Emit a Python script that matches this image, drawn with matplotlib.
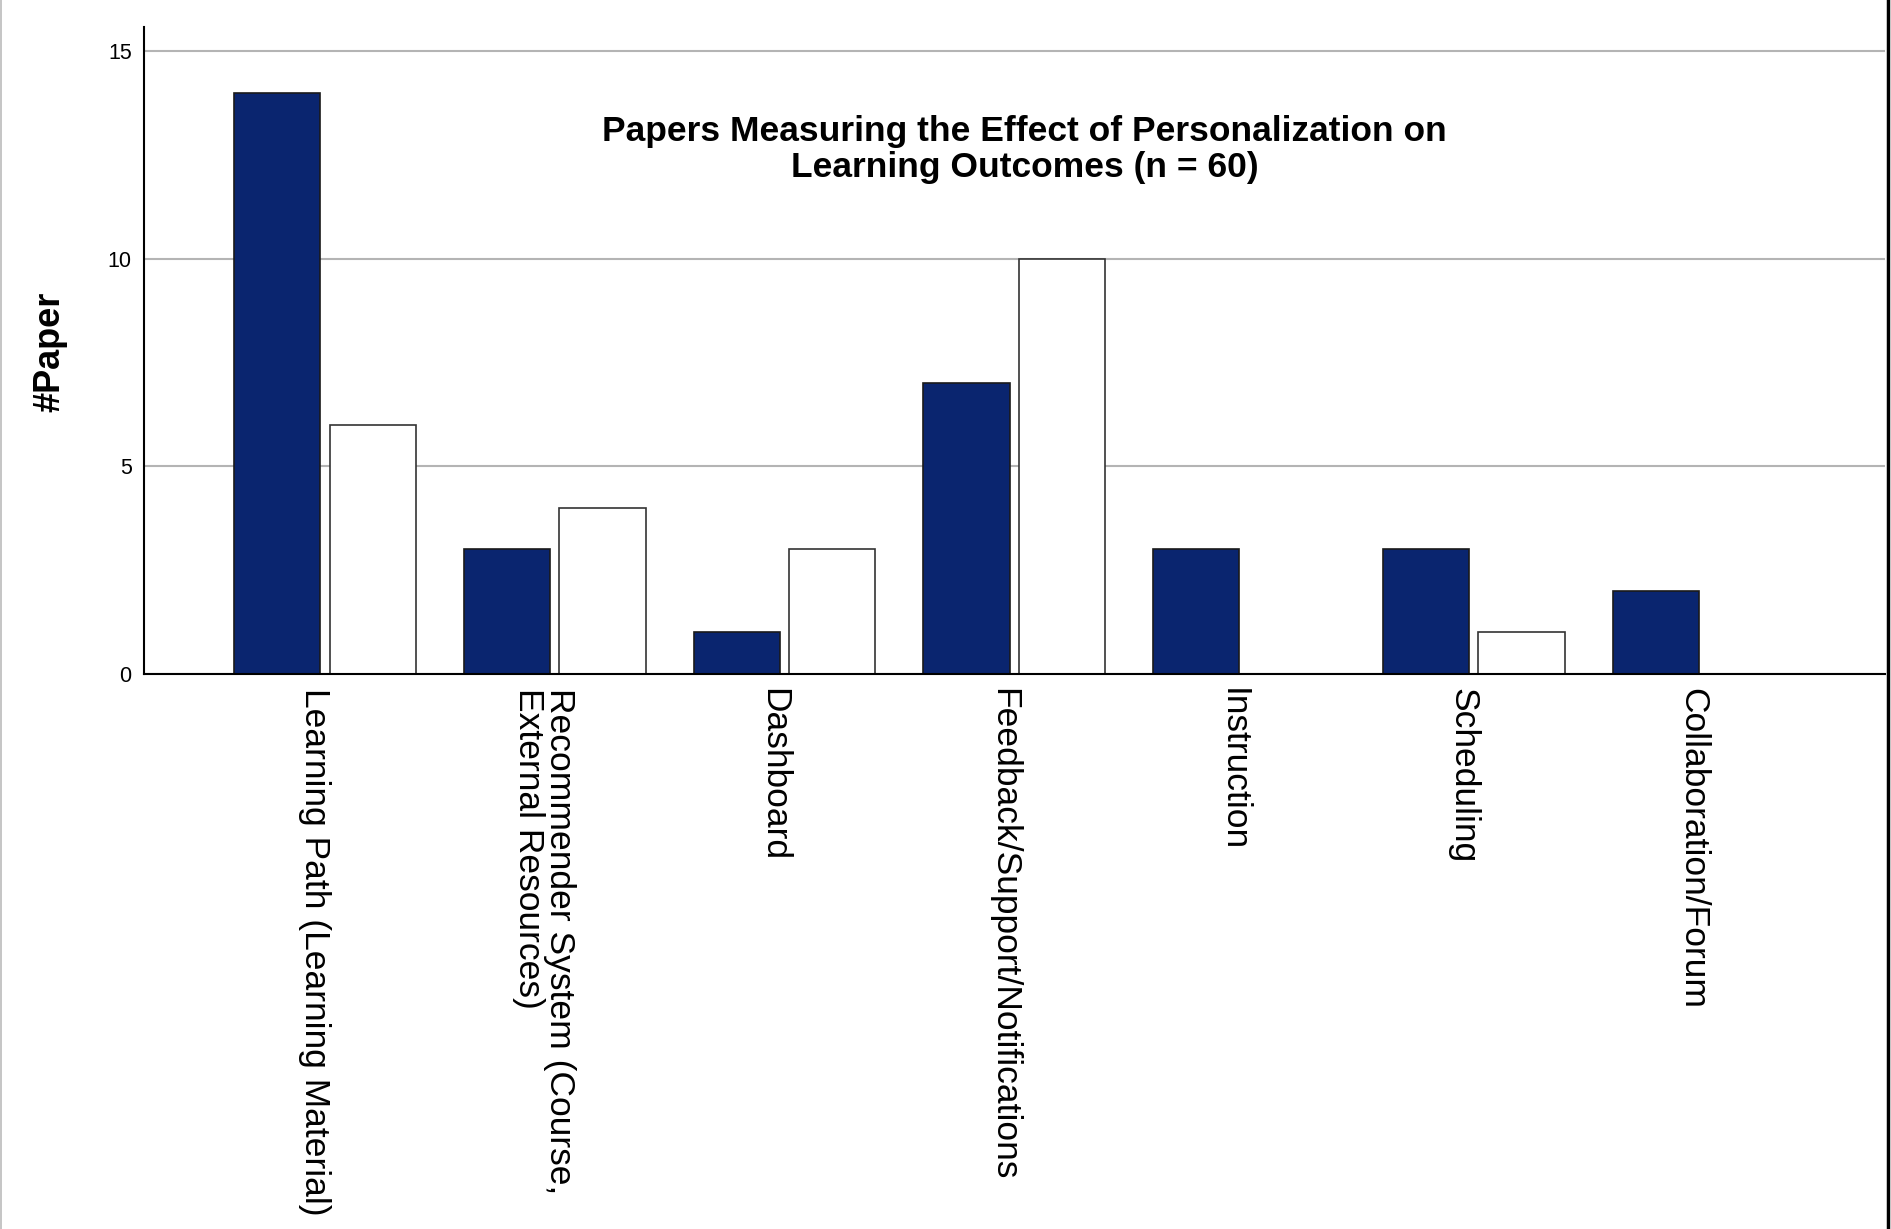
import numpy as np
import matplotlib
matplotlib.use("Agg")
import matplotlib.pyplot as plt
from matplotlib.transforms import ScaledTranslation

plt.rcParams["font.family"] = ["Liberation Sans", "DejaVu Sans"]

# categories and counts
categories = [
    "Learning Path (Learning Material)",
    "Recommender System (Course,\nExternal Resources)",
    "Dashboard",
    "Feedback/Support/Notifications",
    "Instruction",
    "Scheduling",
    "Collaboration/Forum",
]
series_a = [14, 3, 1, 7, 3, 3, 2]
series_b = [6, 4, 3, 10, 0, 1, 0]

navy = "#0a256f"

fig = plt.figure(figsize=(18.91, 12.29), dpi=100)
ax = fig.add_axes([0.0759, 0.4516, 0.9209, 0.5268])

x = np.arange(len(categories))
w = 0.375
off = 0.208

# gridlines behind bars
ax.set_axisbelow(True)
ax.yaxis.grid(True, color="#b4b4b4", linewidth=1.5)

ax.bar(x - off, series_a, width=w, color=navy, edgecolor="#1a1a1a", linewidth=1.2)
bars_b = [v if v > 0 else np.nan for v in series_b]
ax.bar(x + off, bars_b, width=w, color="white", edgecolor="#333333", linewidth=1.2)

ax.set_xlim(-0.79, 6.79)
ax.set_ylim(0, 15.6)
ax.set_yticks([0, 5, 10, 15])
ax.set_xticks(x)
ax.set_xticklabels(categories, rotation=-90, fontsize=25.5, va="top",
                   ha="center", multialignment="left", linespacing=0.93)
ax.tick_params(axis="x", length=0, pad=10)
ax.tick_params(axis="y", length=0, pad=8.5, labelsize=15.5)

# labels sit a little left of the group centre in the original
shift = ScaledTranslation(-11 / 100, 0, fig.dpi_scale_trans)
for lab in ax.get_xticklabels():
    lab.set_transform(lab.get_transform() + shift)

for s in ["top", "right"]:
    ax.spines[s].set_visible(False)
for s in ["left", "bottom"]:
    ax.spines[s].set_linewidth(1.5)
    ax.spines[s].set_color("black")

ax.set_ylabel("#Paper", fontsize=26, fontweight="bold", labelpad=0)
ax.yaxis.set_label_coords(-0.044, (674 - 352) / 647.5)

ax.text(0.506, 0.810,
        "Papers Measuring the Effect of Personalization on\nLearning Outcomes (n = 60)",
        transform=ax.transAxes, ha="center", va="center",
        fontsize=25.5, fontweight="bold", linespacing=1.1)

# page borders as in the screenshot
fig.add_artist(plt.Line2D([0.0006, 0.0006], [0, 1], color="#bbbbbb", linewidth=1.2,
                          transform=fig.transFigure))
fig.add_artist(plt.Line2D([0.9983, 0.9983], [0, 1], color="black", linewidth=2.5,
                          transform=fig.transFigure))

fig.savefig("out.png", dpi=100)
